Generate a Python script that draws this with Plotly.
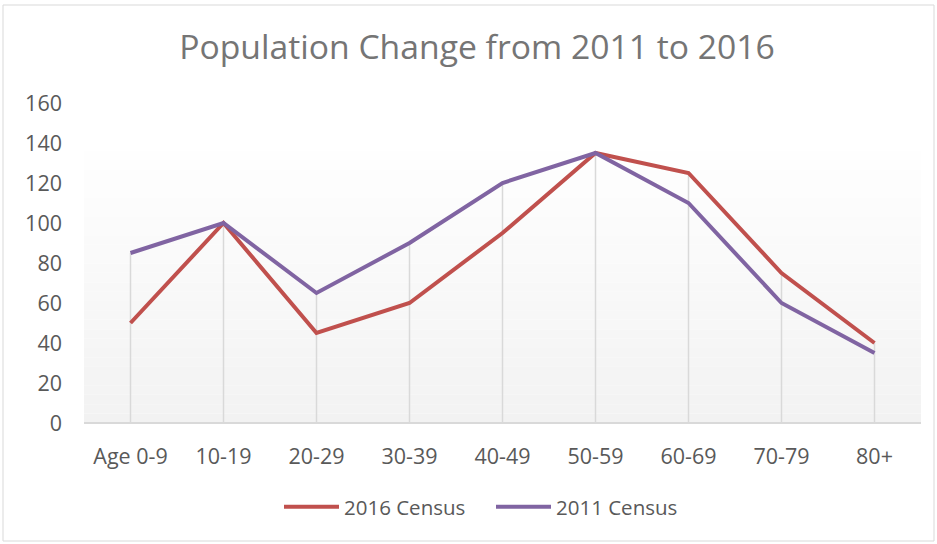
import plotly.graph_objects as go

categories = ["Age 0-9", "10-19", "20-29", "30-39", "40-49", "50-59", "60-69", "70-79", "80+"]
census_2016 = [50, 100, 45, 60, 95, 135, 125, 75, 40]
census_2011 = [85, 100, 65, 90, 120, 135, 110, 60, 35]
y_ticks = [0, 20, 40, 60, 80, 100, 120, 140, 160]

W, H = 937, 544
ml, mr, mt, mb = 84, 16, 103, 121
FONT = "Open Sans, Liberation Sans, Arial, sans-serif"

fig = go.Figure()

# drop lines from the highest point of each category down to the axis
dx, dy = [], []
for c, a, b in zip(categories, census_2016, census_2011):
    dx += [c, c, None]
    dy += [0, max(a, b), None]
fig.add_trace(go.Scatter(x=dx, y=dy, mode="lines", line=dict(color="#d9d9d9", width=1.5),
                         showlegend=False, hoverinfo="skip"))

fig.add_trace(go.Scatter(x=categories, y=census_2016, mode="lines", name="2016 Census",
                         line=dict(color="#c0504d", width=4)))
fig.add_trace(go.Scatter(x=categories, y=census_2011, mode="lines", name="2011 Census",
                         line=dict(color="#8064a2", width=4)))

shapes = []
# gradient background in plot area (white near top to light grey at bottom)
n = 30
top_frac = 0.88
for i in range(n):
    y0 = top_frac * i / n
    y1 = top_frac * (i + 1) / n
    t = 1 - (i + 0.5) / n
    v = int(round(242 + (255 - 242) * (1 - t)))
    shapes.append(dict(type="rect", xref="x domain", yref="y domain", x0=0, x1=1, y0=y0, y1=y1,
                       fillcolor=f"rgb({v},{v},{v})", line=dict(width=0), layer="below"))
# axis line at bottom
shapes.append(dict(type="line", xref="x domain", yref="y domain", x0=0, x1=1, y0=0, y1=0,
                   line=dict(color="#d9d9d9", width=2), layer="above"))
# chart border
pw = W - ml - mr
ph = H - mt - mb
def px_x(p):
    return (p - ml) / pw
def px_y(p):
    return (H - mb - p) / ph
shapes.append(dict(type="rect", xref="paper", yref="paper",
                   x0=px_x(3), x1=px_x(934), y0=px_y(541), y1=px_y(5),
                   line=dict(color="#d9d9d9", width=1), fillcolor="rgba(0,0,0,0)"))

fig.update_layout(
    width=W, height=H,
    margin=dict(l=ml, r=mr, t=mt, b=mb, autoexpand=False),
    paper_bgcolor="white", plot_bgcolor="white",
    font=dict(family=FONT, color="#595959", size=21),
    title=dict(text="Population Change from 2011 to 2016", x=477 / W, xanchor="center",
               y=1 - 47 / H, yanchor="middle", xref="container", yref="container",
               font=dict(size=33.7, color="#757575", family=FONT)),
    xaxis=dict(range=[-0.5, len(categories) - 0.5], showgrid=False, zeroline=False,
               showline=False, ticks="", tickfont=dict(size=21.5, color="#595959"),
               ticklabelstandoff=18, automargin=False, fixedrange=True),
    yaxis=dict(range=[0, 160], tickvals=y_ticks, showgrid=False, zeroline=False,
               showline=False, ticks="", tickfont=dict(size=21.5, color="#595959"),
               ticklabelstandoff=21, automargin=False, fixedrange=True),
    legend=dict(orientation="h", x=px_x(279), xanchor="left", y=-(507 - (H - mb)) / ph,
                yanchor="middle", font=dict(size=20.5, color="#595959"), itemwidth=55,
                entrywidth=142, entrywidthmode="pixels"),
    shapes=shapes,
    showlegend=True,
)

fig.write_html("out.html", config={"displayModeBar": False},
               post_script="document.body.style.margin='0';")
